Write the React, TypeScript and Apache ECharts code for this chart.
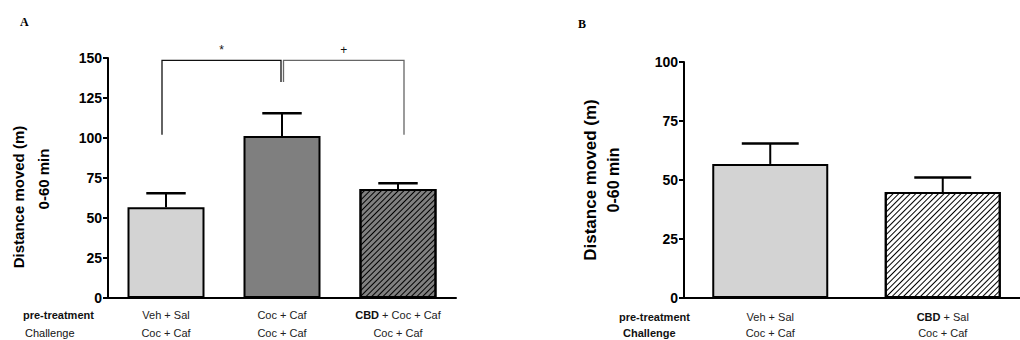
import React, { useEffect, useRef } from "react";
import * as echarts from "echarts";

// Panel A data
const pretreatA = ["Veh + Sal", "Coc + Caf", "CBD + Coc + Caf"];
const challengeA = ["Coc + Caf", "Coc + Caf", "Coc + Caf"];
const meanA = [56.7, 101.3, 68.1];
const semA = [8.7, 14.1, 3.6];
const yTicksA = { min: 0, max: 150, interval: 25 };

// Panel B data
const pretreatB = ["Veh + Sal", "CBD + Sal"];
const challengeB = ["Coc + Caf", "Coc + Caf"];
const meanB = [56.8, 44.9];
const semB = [8.7, 6.2];
const yTicksB = { min: 0, max: 100, interval: 25 };

// Significance brackets (panel A)
const bracketFrom = [0, 1];
const bracketTo = [1, 2];
const bracketTop = [148.5, 148.5];
const bracketLeftEnd = [102, 135];
const bracketRightEnd = [135, 102];
const bracketLabels = ["*", "+"];

const FONT = "'Liberation Sans', Arial, Helvetica, sans-serif";

function fmtPre(v: string) {
  if (v.startsWith("CBD")) return "{b|CBD}" + v.slice(3);
  return v;
}

export default function App() {
  const ref = useRef<HTMLDivElement>(null);
  useEffect(() => {
    document.body.style.margin = "0";
    const chart = echarts.init(ref.current!, undefined, { renderer: "svg" });

    const hatch = {
      symbol: "rect",
      symbolSize: 1,
      color: "#000",
      dashArrayX: [1, 0],
      dashArrayY: [1, 2.2],
      rotation: -Math.PI / 4,
    };

    const fillsA = [
      { color: "#d3d3d3" },
      { color: "#7f7f7f" },
      { color: "#808080", decal: hatch },
    ];
    const fillsB = [{ color: "#d3d3d3" }, { color: "#ffffff", decal: hatch }];

    const yAxisCommon = {
      type: "value",
      splitLine: { show: false },
      axisLine: { show: true, lineStyle: { color: "#000", width: 2 } },
      axisTick: { show: true, length: 5, lineStyle: { color: "#000", width: 2 } },
      axisLabel: {
        color: "#000",
        fontWeight: "bold",
        fontSize: 14,
        fontFamily: FONT,
        margin: 6,
      },
    };

    const xLabelRich = {
      b: { fontWeight: "bold", fontSize: 11, fontFamily: FONT, color: "#111" },
    };

    const errRender = (capFrac: number) => (params: any, api: any) => {
      const x = api.value(0);
      const m = api.value(1);
      const u = api.value(2);
      const p0 = api.coord([x, m]);
      const p1 = api.coord([x, u]);
      const band = api.size([1, 0])[0];
      const hw = band * capFrac;
      return {
        type: "group",
        children: [
          {
            type: "line",
            shape: { x1: p0[0], y1: p0[1], x2: p1[0], y2: p1[1] },
            style: { stroke: "#000", lineWidth: 2 },
          },
          {
            type: "line",
            shape: { x1: p1[0] - hw, y1: p1[1], x2: p1[0] + hw, y2: p1[1] },
            style: { stroke: "#000", lineWidth: 2.5 },
          },
        ],
      };
    };

    const bracketRender = (params: any, api: any) => {
      const i = params.dataIndex;
      const a = api.coord([api.value(0), api.value(2)]);
      const b = api.coord([api.value(1), api.value(2)]);
      const la = api.coord([api.value(0), api.value(3)]);
      const rb = api.coord([api.value(1), api.value(4)]);
      const leftX = a[0] + (i === 0 ? -4 : 1.5);
      const rightX = b[0] + (i === 0 ? -1 : 6);
      const color = i === 0 ? "#111" : "#666";
      return {
        type: "group",
        children: [
          {
            type: "polyline",
            shape: {
              points: [
                [leftX, la[1]],
                [leftX, a[1]],
                [rightX, b[1]],
                [rightX, rb[1]],
              ],
            },
            style: { stroke: color, lineWidth: 1.3, fill: "none" },
          },
          {
            type: "text",
            x: (leftX + rightX) / 2,
            y: a[1] - 10,
            style: {
              text: bracketLabels[i],
              fill: "#111",
              font: "12px " + FONT,
              align: "center",
              verticalAlign: "middle",
            },
          },
        ],
      };
    };

    const rowTextStyle = (bold: boolean) => ({
      fill: "#111",
      font: (bold ? "bold " : "") + "11px " + FONT,
      align: "left",
      verticalAlign: "middle",
    });

    const option: any = {
      animation: false,
      grid: [
        { left: 108, top: 58, width: 348, height: 240, outerBoundsMode: "none", containLabel: false },
        { left: 684, top: 62, width: 345, height: 236, outerBoundsMode: "none", containLabel: false },
      ],
      xAxis: [
        {
          type: "category",
          gridIndex: 0,
          data: pretreatA,
          axisLine: { lineStyle: { color: "#000", width: 2 } },
          axisTick: { show: false },
          axisLabel: {
            interval: 0,
            margin: 8,
            lineHeight: 18,
            fontSize: 11,
            fontFamily: FONT,
            color: "#222",
            formatter: (v: string, idx: number) =>
              fmtPre(v) + "\n" + challengeA[idx],
            rich: xLabelRich,
          },
        },
        {
          type: "category",
          gridIndex: 1,
          data: pretreatB,
          axisLine: { lineStyle: { color: "#000", width: 2 } },
          axisTick: { show: false },
          axisLabel: {
            interval: 0,
            margin: 11,
            lineHeight: 16,
            fontSize: 11,
            fontFamily: FONT,
            color: "#222",
            formatter: (v: string, idx: number) =>
              fmtPre(v) + "\n" + challengeB[idx],
            rich: xLabelRich,
          },
        },
      ],
      yAxis: [
        { ...yAxisCommon, gridIndex: 0, ...yTicksA },
        { ...yAxisCommon, gridIndex: 1, ...yTicksB },
      ],
      series: [
        {
          type: "bar",
          xAxisIndex: 0,
          yAxisIndex: 0,
          barWidth: 77,
          data: meanA.map((v, i) => ({
            value: v,
            itemStyle: { ...fillsA[i], borderColor: "#000", borderWidth: 2 },
          })),
        },
        {
          type: "bar",
          xAxisIndex: 1,
          yAxisIndex: 1,
          barWidth: 116,
          data: meanB.map((v, i) => ({
            value: v,
            itemStyle: { ...fillsB[i], borderColor: "#000", borderWidth: 2 },
          })),
        },
        {
          type: "custom",
          xAxisIndex: 0,
          yAxisIndex: 0,
          z: 5,
          renderItem: errRender(0.17),
          data: meanA.map((v, i) => [i, v, v + semA[i]]),
        },
        {
          type: "custom",
          xAxisIndex: 1,
          yAxisIndex: 1,
          z: 5,
          renderItem: errRender(0.165),
          data: meanB.map((v, i) => [i, v, v + semB[i]]),
        },
        {
          type: "custom",
          xAxisIndex: 0,
          yAxisIndex: 0,
          z: 6,
          clip: false,
          renderItem: bracketRender,
          data: bracketFrom.map((f, i) => [
            f,
            bracketTo[i],
            bracketTop[i],
            bracketLeftEnd[i],
            bracketRightEnd[i],
          ]),
        },
      ],
      graphic: [
        {
          type: "text",
          x: 20,
          y: 22,
          style: {
            text: "A",
            font: "bold 12px 'Liberation Serif', 'Times New Roman', serif",
            fill: "#000",
            verticalAlign: "middle",
          },
        },
        {
          type: "text",
          x: 578,
          y: 24,
          style: {
            text: "B",
            font: "bold 12px 'Liberation Serif', 'Times New Roman', serif",
            fill: "#000",
            verticalAlign: "middle",
          },
        },
        {
          type: "text",
          x: 18,
          y: 197,
          rotation: Math.PI / 2,
          style: {
            text: "Distance moved (m)",
            font: "bold 15px " + FONT,
            fill: "#000",
            align: "center",
            verticalAlign: "middle",
          },
        },
        {
          type: "text",
          x: 43,
          y: 179,
          rotation: Math.PI / 2,
          style: {
            text: "0-60 min",
            font: "bold 15px " + FONT,
            fill: "#000",
            align: "center",
            verticalAlign: "middle",
          },
        },
        {
          type: "text",
          x: 590,
          y: 180,
          rotation: Math.PI / 2,
          style: {
            text: "Distance moved (m)",
            font: "bold 17px " + FONT,
            fill: "#000",
            align: "center",
            verticalAlign: "middle",
          },
        },
        {
          type: "text",
          x: 613,
          y: 180,
          rotation: Math.PI / 2,
          style: {
            text: "0-60 min",
            font: "bold 16px " + FONT,
            fill: "#000",
            align: "center",
            verticalAlign: "middle",
          },
        },
        { type: "text", x: 23, y: 315, style: { text: "pre-treatment", ...rowTextStyle(true) } },
        { type: "text", x: 25, y: 333, style: { text: "Challenge", ...rowTextStyle(false) } },
        { type: "text", x: 619, y: 317, style: { text: "pre-treatment", ...rowTextStyle(true) } },
        { type: "text", x: 623, y: 333, style: { text: "Challenge", ...rowTextStyle(true) } },
      ],
    };

    chart.setOption(option);
    return () => chart.dispose();
  }, []);

  return <div ref={ref} style={{ width: 1020, height: 340 }} />;
}
